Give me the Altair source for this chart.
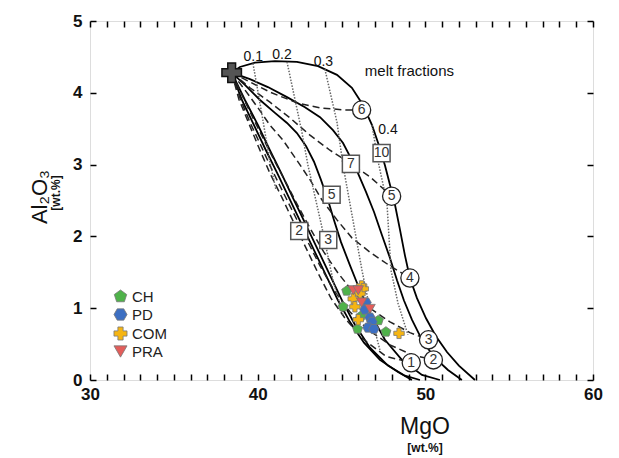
import altair as alt
import pandas as pd

FONT = "Liberation Sans"

# Fertile source composition (wt.%)
SOURCE_MGO = [38.45]
SOURCE_AL = [4.28]

# Residue paths (solid), by initial melting pressure in GPa
PI10_MGO = [38.45, 38.94, 39.84, 41.03, 42.34, 43.60, 44.73, 45.62, 46.28, 46.82, 47.23, 47.59,
            47.89, 48.19, 48.49, 48.78, 49.08, 49.50, 50.04, 50.63, 51.29, 52.00, 52.96]
PI10_AL = [4.28, 4.36, 4.42, 4.44, 4.43, 4.37, 4.25, 4.07, 3.83, 3.55, 3.27, 2.99,
           2.72, 2.44, 2.09, 1.74, 1.42, 1.14, 0.86, 0.61, 0.39, 0.20, 0.0]
PI7_MGO = [38.45, 39.54, 40.61, 41.75, 42.82, 43.72, 44.49, 45.09, 45.56, 45.98, 46.46, 46.94,
           47.41, 47.89, 48.31, 48.72, 49.20, 49.80, 50.51, 51.35, 52.18]
PI7_AL = [4.28, 4.19, 4.08, 3.94, 3.80, 3.66, 3.48, 3.30, 3.09, 2.88, 2.62, 2.34,
          2.02, 1.70, 1.39, 1.11, 0.84, 0.56, 0.32, 0.14, 0.0]
PI5_MGO = [38.45, 39.24, 40.14, 41.03, 41.75, 42.34, 42.88, 43.36, 43.77, 44.19, 44.55, 44.97,
           45.50, 46.10, 46.76, 47.59, 48.60, 49.80, 50.87]
PI5_AL = [4.28, 4.11, 3.90, 3.72, 3.58, 3.44, 3.26, 3.04, 2.79, 2.51, 2.23, 1.92,
          1.60, 1.25, 0.91, 0.56, 0.28, 0.07, 0.0]
PI3_MGO = [38.45, 39.24, 40.02, 40.73, 41.45, 42.16, 42.88, 43.60, 44.31, 45.03, 45.80, 46.70,
           47.77, 48.78, 49.68]
PI3_AL = [4.28, 3.90, 3.55, 3.20, 2.86, 2.51, 2.16, 1.81, 1.46, 1.11, 0.77, 0.45,
          0.20, 0.06, 0.0]
PI2_MGO = [38.45, 39.06, 39.78, 40.49, 41.21, 41.93, 42.64, 43.36, 44.07, 44.79, 45.50, 46.34,
           47.29, 48.37, 49.20]
PI2_AL = [4.28, 3.90, 3.55, 3.20, 2.86, 2.51, 2.16, 1.81, 1.46, 1.11, 0.81, 0.52,
          0.28, 0.11, 0.0]

# Final melting pressure lines (dashed), GPa
PF6_MGO = [38.45, 39.54, 40.73, 42.34, 43.72, 45.21, 46.20]
PF6_AL = [4.28, 4.15, 4.01, 3.86, 3.79, 3.76, 3.76]
PF5_MGO = [38.45, 39.54, 40.73, 41.93, 43.12, 44.31, 45.50, 46.70, 47.99]
PF5_AL = [4.28, 4.07, 3.87, 3.65, 3.41, 3.20, 3.02, 2.83, 2.56]
PF4_MGO = [38.45, 39.24, 40.02, 40.73, 41.51, 42.34, 43.12, 43.83, 44.73, 45.62, 46.70, 47.89, 49.08]
PF4_AL = [4.28, 4.04, 3.79, 3.55, 3.34, 3.06, 2.79, 2.51, 2.23, 1.98, 1.78, 1.59, 1.42]
PF3_MGO = [38.45, 39.06, 39.72, 40.38, 41.03, 41.75, 42.46, 43.18, 43.95, 44.79, 45.68, 46.70,
           47.89, 49.08, 50.19]
PF3_AL = [4.28, 3.97, 3.65, 3.34, 3.04, 2.72, 2.40, 2.09, 1.78, 1.49, 1.23, 1.00,
          0.81, 0.66, 0.56]
PF2_MGO = [38.45, 38.94, 39.54, 40.20, 40.85, 41.57, 42.28, 43.00, 43.72, 44.55, 45.50, 46.58,
           47.89, 49.20, 50.48]
PF2_AL = [4.28, 3.93, 3.59, 3.26, 2.93, 2.59, 2.26, 1.92, 1.59, 1.25, 0.95, 0.70,
          0.49, 0.35, 0.28]
PF1_MGO = [38.45, 38.88, 39.48, 40.08, 40.73, 41.45, 42.16, 42.88, 43.60, 44.37, 45.27, 46.34,
           47.65, 49.16]
PF1_AL = [4.28, 3.91, 3.57, 3.23, 2.88, 2.54, 2.19, 1.84, 1.49, 1.14, 0.84, 0.56,
          0.33, 0.24]

# Melt fraction isopleths (dotted)
F01_MGO = [39.72, 40.26, 40.73, 41.09]
F01_AL = [4.41, 3.69, 3.04, 2.65]
F02_MGO = [41.75, 42.64, 43.00, 43.83, 44.49, 45.09]
F02_AL = [4.43, 3.45, 2.99, 2.13, 1.39, 0.91]
F03_MGO = [44.01, 44.73, 45.09, 45.68, 46.22, 46.82, 47.29]
F03_AL = [4.33, 3.59, 2.99, 2.23, 1.53, 0.84, 0.42]
F04_MGO = [46.82, 47.17, 47.71, 47.95, 48.37, 48.96]
F04_AL = [3.55, 3.06, 2.47, 1.53, 1.07, 0.63]

# Pressure labels
CIRCLE_TEXT = ["6", "5", "4", "3", "2", "1"]
CIRCLE_MGO = [46.20, 47.99, 49.08, 50.19, 50.48, 49.16]
CIRCLE_AL = [3.76, 2.56, 1.42, 0.56, 0.28, 0.24]
SQUARE_TEXT = ["10", "7", "5", "3", "2"]
SQUARE_MGO = [47.39, 45.56, 44.41, 44.21, 42.48]
SQUARE_AL = [3.16, 3.01, 2.58, 1.95, 2.075]

FRAC_TEXT = ["0.1", "0.2", "0.3", "0.4"]
FRAC_MGO = [39.74, 41.45, 43.92, 47.77]
FRAC_AL = [4.50, 4.52, 4.43, 3.48]
NOTE_TEXT = ["melt fractions"]
NOTE_MGO = [49.05]
NOTE_AL = [4.31]

# Samples
GROUPS = ["CH", "PD", "COM", "PRA"]
CH_MGO = [45.31, 45.10, 46.16, 45.96, 47.20, 47.65]
CH_AL = [1.24, 1.02, 0.89, 0.71, 0.83, 0.67]
PD_MGO = [46.46, 46.40, 46.70, 46.82, 46.58, 46.93]
PD_AL = [1.08, 0.98, 0.87, 0.81, 0.73, 0.71]
COM_MGO = [46.20, 46.30, 46.10, 45.70, 45.80, 46.00, 48.43]
COM_AL = [1.31, 1.27, 1.20, 1.13, 1.02, 0.84, 0.65]
PRA_MGO = [45.70, 46.00, 46.20, 46.70]
PRA_AL = [1.25, 1.25, 1.08, 0.99]

GROUP_COLORS = ["#4fb24a", "#3d6fc2", "#f6b512", "#e35d5a"]
PENTAGON = "M0,-1L0.951,-0.309L0.588,0.809L-0.588,0.809L-0.951,-0.309Z"
HEXAGON = "M-1,0L-0.5,-0.866L0.5,-0.866L1,0L0.5,0.866L-0.5,0.866Z"
GROUP_SHAPES = [PENTAGON, HEXAGON, "cross", "triangle-down"]


def curve_frame(curves):
    rows = []
    for name, xs_, ys_ in curves:
        for i, (a, b) in enumerate(zip(xs_, ys_)):
            rows.append({"curve": name, "idx": i, "mgo": a, "al": b})
    return pd.DataFrame(rows)


solid_df = curve_frame([("10", PI10_MGO, PI10_AL), ("7", PI7_MGO, PI7_AL), ("5", PI5_MGO, PI5_AL),
                        ("3", PI3_MGO, PI3_AL), ("2", PI2_MGO, PI2_AL)])
dashed_df = curve_frame([("6", PF6_MGO, PF6_AL), ("5", PF5_MGO, PF5_AL), ("4", PF4_MGO, PF4_AL),
                         ("3", PF3_MGO, PF3_AL), ("2", PF2_MGO, PF2_AL), ("1", PF1_MGO, PF1_AL)])
dotted_df = curve_frame([("0.1", F01_MGO, F01_AL), ("0.2", F02_MGO, F02_AL),
                         ("0.3", F03_MGO, F03_AL), ("0.4", F04_MGO, F04_AL)])

samples = pd.DataFrame(
    [{"group": "CH", "mgo": a, "al": b} for a, b in zip(CH_MGO, CH_AL)]
    + [{"group": "PD", "mgo": a, "al": b} for a, b in zip(PD_MGO, PD_AL)]
    + [{"group": "COM", "mgo": a, "al": b} for a, b in zip(COM_MGO, COM_AL)]
    + [{"group": "PRA", "mgo": a, "al": b} for a, b in zip(PRA_MGO, PRA_AL)]
)
circles = pd.DataFrame({"t": CIRCLE_TEXT, "mgo": CIRCLE_MGO, "al": CIRCLE_AL})
squares = pd.DataFrame({"t": SQUARE_TEXT, "mgo": SQUARE_MGO, "al": SQUARE_AL})
fracs = pd.DataFrame({"t": FRAC_TEXT, "mgo": FRAC_MGO, "al": FRAC_AL})
note = pd.DataFrame({"t": NOTE_TEXT, "mgo": NOTE_MGO, "al": NOTE_AL})
source = pd.DataFrame({"mgo": SOURCE_MGO, "al": SOURCE_AL})

XS = alt.Scale(domain=[30, 60], nice=False, zero=False)
YS = alt.Scale(domain=[0, 5], nice=False, zero=False)

tick_common = dict(domain=False, grid=False, tickColor="black", tickWidth=1.5, tickSize=6,
                   offset=-6, title=None, labelFont=FONT, labelFontSize=17,
                   labelFontWeight="bold", labelColor="#111", labelFlush=False,
                   labelOverlap=False)
AX_BOTTOM = alt.Axis(orient="bottom", values=list(range(30, 61)),
                     labelExpr="datum.value % 10 === 0 ? datum.label : ''",
                     labelPadding=6, **tick_common)
AX_LEFT = alt.Axis(orient="left", values=[0, 1, 2, 3, 4, 5], labelPadding=8, **tick_common)
AX_TOP = alt.Axis(orient="top", values=list(range(30, 61)), labels=False, **tick_common)
AX_RIGHT = alt.Axis(orient="right", values=[0, 1, 2, 3, 4, 5], labels=False, **tick_common)


def xq(axis=None):
    return alt.X("mgo:Q", scale=XS, axis=axis)


def yq(axis=None):
    return alt.Y("al:Q", scale=YS, axis=axis)


solid = alt.Chart(solid_df).mark_line(color="black", strokeWidth=1.8).encode(
    x=xq(AX_BOTTOM), y=yq(AX_LEFT), detail="curve:N", order="idx:Q")
dashed = alt.Chart(dashed_df).mark_line(color="#222", strokeWidth=1.5, strokeDash=[7, 4]).encode(
    x=xq(), y=yq(), detail="curve:N", order="idx:Q")
dotted = alt.Chart(dotted_df).mark_line(color="#666", strokeWidth=1.5, strokeDash=[1.5, 1.5]).encode(
    x=xq(), y=yq(), detail="curve:N", order="idx:Q")

circle_marks = alt.Chart(circles).mark_point(shape="circle", filled=True, fill="white",
                                             stroke="#222", strokeWidth=1.3, size=330,
                                             opacity=1).encode(x=xq(), y=yq())
circle_text = alt.Chart(circles).mark_text(font=FONT, fontSize=14, color="#333").encode(
    x=xq(), y=yq(), text="t:N")
square_marks = alt.Chart(squares).mark_point(shape="square", filled=True, fill="white",
                                             stroke="#555", strokeWidth=1.5, size=290,
                                             opacity=1).encode(x=xq(), y=yq())
square_text = alt.Chart(squares).mark_text(font=FONT, fontSize=14, color="#333").encode(
    x=xq(), y=yq(), text="t:N")
frac_text = alt.Chart(fracs).mark_text(font=FONT, fontSize=14, color="#111").encode(
    x=xq(), y=yq(), text="t:N")
note_text = alt.Chart(note).mark_text(font=FONT, fontSize=15, color="#111").encode(
    x=xq(), y=yq(), text="t:N")

points = alt.Chart(samples).mark_point(filled=True, size=110, opacity=1, stroke="#777",
                                       strokeWidth=0.8).encode(
    x=xq(), y=yq(),
    color=alt.Color("group:N", scale=alt.Scale(domain=GROUPS, range=GROUP_COLORS),
                    legend=alt.Legend(title=None, orient="none", legendX=23, legendY=268,
                                      labelFont=FONT, labelFontSize=15, labelColor="#222",
                                      symbolSize=170, symbolStrokeColor="#777",
                                      symbolStrokeWidth=0.8, rowPadding=2, padding=0,
                                      labelOffset=4)),
    shape=alt.Shape("group:N", scale=alt.Scale(domain=GROUPS, range=GROUP_SHAPES),
                    legend=None),
)

src = alt.Chart(source).mark_point(shape="cross", filled=True, fill="#555", stroke="#111",
                                   strokeWidth=1.5, size=380, opacity=1).encode(
    x=xq(AX_TOP), y=yq(AX_RIGHT))

titles = pd.DataFrame({"t": ["MgO"]})
x_title = alt.Chart(titles).mark_text(font=FONT, fontSize=23, color="#111").encode(
    text=alt.value("MgO"), x=alt.value(335), y=alt.value(406))
x_unit = alt.Chart(titles).mark_text(font=FONT, fontSize=12, fontWeight="bold", color="#111").encode(
    text=alt.value("[wt.%]"), x=alt.value(335), y=alt.value(427))
y_title = alt.Chart(titles).mark_text(font=FONT, fontSize=22, color="#111", angle=270).encode(
    text=alt.value("Al₂O₃"), x=alt.value(-50), y=alt.value(176))
y_unit = alt.Chart(titles).mark_text(font=FONT, fontSize=12, fontWeight="bold", color="#111",
                                     angle=270).encode(
    text=alt.value("[wt.%]"), x=alt.value(-34), y=alt.value(172))

chart = alt.layer(
    solid, dashed, dotted, circle_marks, circle_text, square_marks, square_text, frac_text,
    note_text, points, src, x_title, x_unit, y_title, y_unit,
).resolve_axis(x="independent", y="independent").properties(
    width=503, height=359,
    autosize=alt.AutoSizeParams(type="none"),
    padding={"left": 90, "top": 21, "right": 26, "bottom": 78},
).configure_view(stroke="black", strokeWidth=2).configure(background="white")

chart.save("out.html", embed_options={"renderer": "svg", "actions": False})
